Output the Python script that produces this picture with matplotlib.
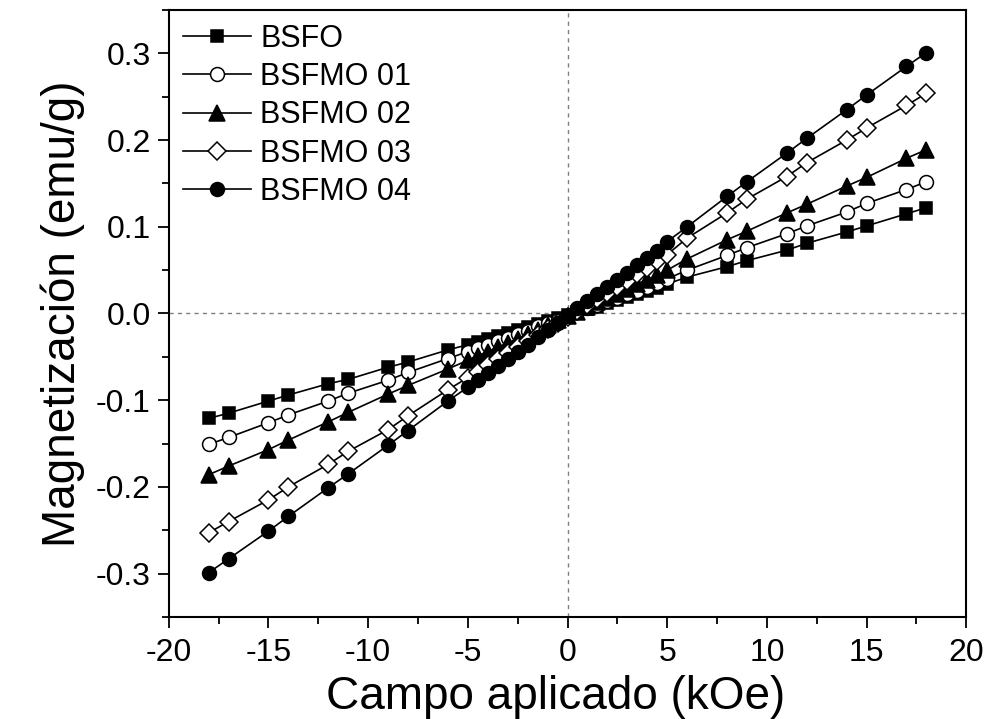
import numpy as np
import matplotlib
matplotlib.use('Agg')
import matplotlib.pyplot as plt
from matplotlib.ticker import MultipleLocator, FuncFormatter

plt.rcParams['font.family'] = ['Liberation Sans', 'DejaVu Sans']

# field values (kOe)
campo = [-18, -17, -15, -14, -12, -11, -9, -8, -6, -5,
         -4.5, -4, -3.5, -3, -2.5, -2, -1.5, -1, -0.5, 0,
         0.5, 1, 1.5, 2, 2.5, 3, 3.5, 4, 4.5,
         5, 6, 8, 9, 11, 12, 14, 15, 17, 18]

# magnetization (emu/g)
bsfo = [-0.121, -0.115, -0.101, -0.094, -0.081, -0.076, -0.062, -0.056, -0.042, -0.036,
        -0.033, -0.029, -0.026, -0.022, -0.019, -0.016, -0.012, -0.009, -0.005, -0.002,
        0.002, 0.005, 0.008, 0.012, 0.015, 0.019, 0.022, 0.026, 0.029,
        0.034, 0.042, 0.054, 0.061, 0.073, 0.081, 0.094, 0.101, 0.115, 0.122]
bsfmo01 = [-0.151, -0.143, -0.126, -0.117, -0.101, -0.092, -0.077, -0.068, -0.052, -0.044,
           -0.040, -0.036, -0.032, -0.028, -0.024, -0.020, -0.015, -0.011, -0.007, -0.003,
           0.002, 0.006, 0.010, 0.014, 0.018, 0.022, 0.026, 0.031, 0.035,
           0.040, 0.050, 0.067, 0.076, 0.092, 0.101, 0.117, 0.127, 0.143, 0.152]
bsfmo02 = [-0.186, -0.176, -0.157, -0.146, -0.125, -0.114, -0.093, -0.083, -0.064, -0.054,
           -0.049, -0.044, -0.039, -0.034, -0.029, -0.024, -0.019, -0.013, -0.008, -0.003,
           0.002, 0.008, 0.013, 0.018, 0.023, 0.028, 0.034, 0.039, 0.044,
           0.050, 0.063, 0.085, 0.095, 0.116, 0.126, 0.147, 0.157, 0.179, 0.189]
bsfmo03 = [-0.253, -0.240, -0.215, -0.200, -0.174, -0.159, -0.134, -0.118, -0.088, -0.074,
           -0.067, -0.060, -0.053, -0.046, -0.039, -0.032, -0.025, -0.018, -0.011, -0.004,
           0.003, 0.010, 0.017, 0.024, 0.031, 0.038, 0.045, 0.052, 0.060,
           0.068, 0.087, 0.116, 0.132, 0.158, 0.174, 0.200, 0.214, 0.240, 0.254]
bsfmo04 = [-0.299, -0.283, -0.251, -0.234, -0.201, -0.185, -0.152, -0.135, -0.101, -0.085,
           -0.077, -0.069, -0.061, -0.052, -0.044, -0.036, -0.027, -0.019, -0.011, -0.003,
           0.006, 0.014, 0.022, 0.031, 0.039, 0.047, 0.056, 0.064, 0.072,
           0.083, 0.100, 0.135, 0.152, 0.185, 0.202, 0.235, 0.252, 0.285, 0.301]

series = [('BSFO', bsfo, 's', 'k', 9),
          ('BSFMO 01', bsfmo01, 'o', 'white', 10),
          ('BSFMO 02', bsfmo02, '^', 'k', 11),
          ('BSFMO 03', bsfmo03, 'D', 'white', 9),
          ('BSFMO 04', bsfmo04, 'o', 'k', 10)]

fig = plt.figure(figsize=(9.87, 7.19), dpi=100)
ax = fig.add_axes([0.171, 0.142, 0.808, 0.844])

ax.axhline(0, color='gray', ls=(0, (3, 3)), lw=1.0, zorder=0)
ax.axvline(0, color='gray', ls=(0, (3, 3)), lw=1.0, zorder=0)

for name, m, mk, fc, ms in series:
    ax.plot(campo, m, '-', color='k', lw=1.2, marker=mk, ms=ms,
            mfc=fc, mec='k', mew=1.1, label=name)

ax.set_xlim(-20, 20)
ax.set_ylim(-0.35, 0.35)
ax.xaxis.set_major_locator(MultipleLocator(5))
ax.xaxis.set_minor_locator(MultipleLocator(2.5))
ax.yaxis.set_major_locator(MultipleLocator(0.1))
ax.yaxis.set_minor_locator(MultipleLocator(0.05))
ax.xaxis.set_major_formatter(FuncFormatter(lambda v, p: '%d' % round(v)))
ax.yaxis.set_major_formatter(FuncFormatter(lambda v, p: '%.1f' % (0.0 if abs(v) < 1e-9 else v)))
ax.tick_params(which='major', direction='out', length=8, width=1.3, labelsize=23)
ax.tick_params(axis='x', which='major', pad=7)
ax.tick_params(axis='y', which='major', pad=5)
ax.tick_params(which='minor', direction='out', length=5, width=1.3)
for sp in ax.spines.values():
    sp.set_linewidth(1.5)

ax.set_xlabel('Campo aplicado (kOe)', fontsize=33)
ax.xaxis.set_label_coords(0.485, -0.095)
ax.set_ylabel('Magnetización (emu/g)', fontsize=33, labelpad=8)

ax.legend(loc='upper left', frameon=False, fontsize=22, handlelength=2.25,
          labelspacing=0.27, handletextpad=0.3, borderaxespad=0.05)

fig.savefig('out.png', dpi=100)
